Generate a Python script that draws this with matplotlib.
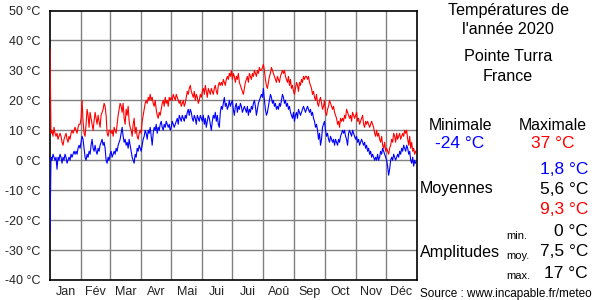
"""Daily min / max temperatures for 2020, Pointe Turra
"""
import matplotlib
matplotlib.use('Agg')
import matplotlib.pyplot as plt
import numpy as np

plt.rcParams['font.family'] = ['Liberation Sans', 'DejaVu Sans']

# Input data (one value per day of 2020)
t_max = [
    # Jan
    37, 9, 10, 8, 11, 9, 8, 9, 7, 8, 9, 8, 6, 5, 7, 8, 9, 7, 6, 8,
    7, 9, 10, 9, 10, 11, 10, 9, 11, 12, 12,
    # Feb
    14, 20, 13, 9, 8, 12, 17, 15, 11, 16, 14, 12, 10, 13, 16, 14, 12, 15, 13, 11,
    15, 16, 17, 19, 18, 15, 9, 8, 10,
    # Mar
    10, 9, 10, 8, 11, 10, 9, 12, 15, 17, 19, 18, 16, 19, 14, 12, 17, 15, 18, 13,
    11, 10, 8, 12, 14, 9, 11, 8, 7, 9, 10,
    # Apr
    9, 13, 15, 17, 19, 20, 19, 21, 20, 22, 20, 21, 19, 18, 20, 17, 15, 14, 16, 15,
    17, 19, 20, 18, 21, 19, 20, 18, 21, 20,
    # May
    21, 20, 22, 21, 20, 22, 21, 20, 19, 20, 18, 19, 20, 18, 19, 21, 23, 22, 24, 25,
    23, 22, 21, 23, 20, 22, 21, 19, 20, 22, 21,
    # Jun
    23, 24, 22, 25, 23, 21, 24, 23, 22, 24, 23, 22, 24, 25, 23, 22, 25, 26, 25, 26,
    25, 27, 26, 25, 27, 28, 27, 29, 28, 30,
    # Jul
    27, 29, 28, 26, 28, 27, 29, 26, 25, 24, 23, 22, 24, 26, 27, 28, 26, 29, 28, 27,
    29, 28, 30, 29, 28, 30, 29, 31, 30, 30, 31,
    # Aug
    32, 30, 27, 25, 24, 26, 28, 29, 31, 30, 29, 28, 27, 26, 28, 27, 26, 28, 29, 30,
    29, 30, 28, 27, 26, 28, 25, 27, 24, 25, 23,
    # Sep
    22, 24, 26, 25, 23, 26, 25, 27, 26, 28, 27, 28, 28, 27, 28, 26, 25, 24, 22, 23,
    21, 20, 22, 19, 18, 20, 21, 19, 17, 18,
    # Oct
    20, 16, 15, 17, 18, 20, 19, 18, 17, 18, 16, 15, 14, 12, 13, 11, 14, 13, 14, 13,
    15, 14, 17, 16, 15, 14, 15, 13, 16, 15, 14,
    # Nov
    15, 16, 13, 14, 12, 13, 14, 15, 12, 11, 13, 12, 13, 12, 11, 12, 13, 12, 11, 9,
    8, 10, 8, 9, 7, 6, 8, 5, 4, 6,
    # Dec
    3, 4, 3, 2, 4, 5, 7, 6, 9, 8, 6, 9, 7, 8, 9, 7, 8, 9, 8, 10,
    9, 10, 7, 5, 8, 4, 6, 3, 4, 2, 3,
]

t_min = [
    # Jan
    -24, 1, 0, 2, 1, 0, 1, -3, 1, 0, 2, 1, -1, 1, 0, 2, 1, -1, 0, 1,
    0, 2, 1, 2, 3, 2, 3, 2, 4, 5, 4,
    # Feb
    6, 8, 7, 4, 1, 0, 2, 1, 3, 2, 5, 7, 4, 3, 5, 3, 2, 4, 3, 5,
    6, 7, 5, 6, 4, 0, -1, 1, 0,
    # Mar
    2, 3, 1, 2, 3, 2, 4, 3, 5, 6, 7, 9, 11, 8, 6, 7, 5, 6, 4, 7,
    5, 3, 1, 0, -1, 2, 1, 4, 3, 5, 4,
    # Apr
    3, 5, 7, 8, 10, 9, 7, 10, 9, 11, 8, 5, 9, 11, 10, 12, 9, 11, 10, 12,
    13, 11, 10, 12, 11, 13, 12, 11, 12, 10,
    # May
    11, 13, 12, 11, 12, 13, 14, 12, 15, 14, 13, 15, 14, 13, 15, 14, 16, 17, 15, 17,
    16, 14, 13, 15, 14, 12, 15, 14, 13, 15, 14,
    # Jun
    13, 15, 12, 14, 11, 13, 15, 14, 12, 10, 13, 15, 14, 16, 13, 15, 12, 11, 16, 18,
    17, 19, 21, 18, 19, 17, 18, 20, 18, 19,
    # Jul
    20, 17, 15, 18, 19, 16, 18, 17, 19, 18, 16, 17, 18, 17, 16, 18, 15, 17, 16, 18,
    17, 19, 20, 18, 15, 17, 19, 20, 21, 22, 21,
    # Aug
    24, 20, 17, 15, 16, 18, 20, 22, 21, 19, 20, 18, 19, 17, 18, 17, 19, 18, 20, 22,
    21, 19, 20, 18, 19, 17, 18, 16, 15, 14, 16,
    # Sep
    13, 15, 16, 14, 17, 16, 15, 16, 17, 18, 17, 16, 17, 18, 17, 16, 17, 15, 16, 14,
    13, 11, 12, 10, 7, 9, 5, 7, 11, 12,
    # Oct
    13, 10, 8, 9, 7, 6, 8, 7, 6, 7, 5, 7, 6, 5, 7, 6, 8, 9, 10, 9,
    10, 8, 7, 5, 9, 10, 9, 8, 10, 9, 8,
    # Nov
    7, 8, 6, 7, 5, 6, 7, 6, 5, 6, 4, 5, 3, 4, 2, 3, 1, 2, 1, 0,
    1, 0, 2, 0, 1, 3, 2, 4, 3, 2,
    # Dec
    1, 0, -2, -5, -3, 0, 1, 0, 2, 1, 0, 1, 2, 1, 3, 2, 4, 3, 5, 4,
    3, 5, 4, 2, 3, 0, -1, 1, -2, 0, -1,
]

month_labels = ['Jan', 'Fév', 'Mar', 'Avr', 'Mai', 'Jui',
                'Jui', 'Aoû', 'Sep', 'Oct', 'Nov', 'Déc']
month_days = [31, 29, 31, 30, 31, 30, 31, 31, 30, 31, 30, 31]
y_ticks = [-40, -30, -20, -10, 0, 10, 20, 30, 40, 50]

# Create figure
W, H = 600, 300
fig = plt.figure(figsize=(W / 100, H / 100), dpi=100)
ax = fig.add_axes([50 / W, 20 / H, 366.7 / W, 269.5 / H])

days = np.arange(len(t_max))
ax.plot(days, t_max, color='#ff0000', lw=0.8, zorder=3)
ax.plot(days, t_min, color='#0000ff', lw=0.8, zorder=4)

month_ends = np.cumsum(month_days)
month_mids = month_ends - np.array(month_days) / 2

ax.set_xlim(0, month_ends[-1])
ax.set_ylim(y_ticks[0], y_ticks[-1])
ax.set_yticks(y_ticks)
ax.set_yticklabels(['%d °C' % t for t in y_ticks], fontsize=9, color='#222222')
ax.set_xticks(month_mids)
ax.set_xticklabels(month_labels, fontsize=9, color='#222222')
ax.tick_params(length=0, pad=7)
ax.tick_params(axis='x', pad=4)

for x in month_ends[:-1]:
    ax.axvline(x, color='#808080', lw=1.0, zorder=1)
for y in y_ticks[1:-1]:
    ax.axhline(y, color='#808080', lw=1.0, zorder=1)

for s in ax.spines.values():
    s.set_color('black')
    s.set_linewidth(1.2)

# Right hand panel
def txt(x, y, s, **kw):
    fig.text(x / W, 1 - y / H, s, va='center', **kw)

cx = 508
txt(cx, 10, 'Températures de', ha='center', fontsize=11.6)
txt(cx, 30, "l'année 2020", ha='center', fontsize=11.6)
txt(cx, 57, 'Pointe Turra', ha='center', fontsize=11.6)
txt(cx, 77, 'France', ha='center', fontsize=11.6)

txt(460, 125, 'Minimale', ha='center', fontsize=11.4)
txt(553, 125, 'Maximale', ha='center', fontsize=11.4)
txt(460, 144, '-24 °C', ha='center', fontsize=12.5, color='#0000ff')
txt(553, 144, '37 °C', ha='center', fontsize=12.5, color='#ff0000')

rx = 588
txt(420, 189, 'Moyennes', ha='left', fontsize=11.5)
txt(rx, 169, '1,8 °C', ha='right', fontsize=12.5, color='#0000ff')
txt(rx, 189, '5,6 °C', ha='right', fontsize=12.5)
txt(rx, 209, '9,3 °C', ha='right', fontsize=12.5, color='#ff0000')

txt(420, 253, 'Amplitudes', ha='left', fontsize=11.6)
txt(506, 236, 'min.', ha='left', fontsize=8)
txt(506, 256, 'moy.', ha='left', fontsize=8)
txt(506, 276, 'max.', ha='left', fontsize=8)
txt(rx, 232, '0 °C', ha='right', fontsize=12.5)
txt(rx, 252, '7,5 °C', ha='right', fontsize=12.5)
txt(rx, 273, '17 °C', ha='right', fontsize=12.5)

txt(420, 294, 'Source : www.incapable.fr/meteo', ha='left', fontsize=8.5)

plt.savefig('out.png', dpi=100)
